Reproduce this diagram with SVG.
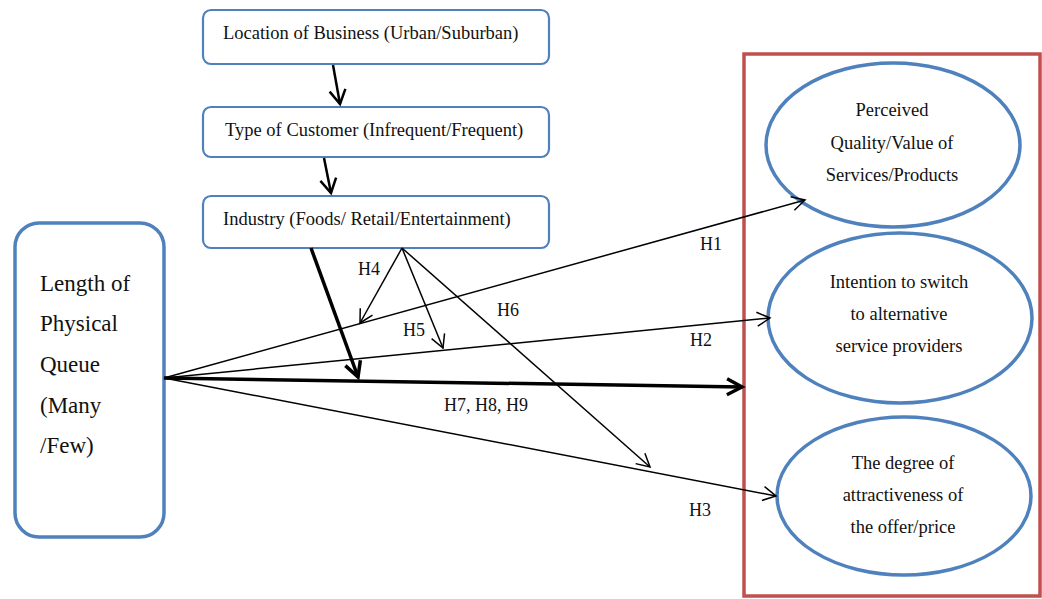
<svg xmlns="http://www.w3.org/2000/svg" width="1042" height="599" viewBox="0 0 1042 599">
  <style>
    text { font-family: "Liberation Serif", "Times New Roman", serif; fill: #111; }
    .box { fill: #fff; stroke: #4f81bd; stroke-width: 2.2; }
    .big { fill: #fff; stroke: #4f81bd; stroke-width: 3.5; }
    .oval { fill: #fff; stroke: #4f81bd; stroke-width: 3.5; }
    .frame { fill: none; stroke: #c0504d; stroke-width: 3.5; }
    .thin { fill: none; stroke: #000; stroke-width: 1.5; marker-end: url(#open); }
    .mid { fill: none; stroke: #000; stroke-width: 2.5; marker-end: url(#openMid); }
    .thick { fill: none; stroke: #000; stroke-width: 3.5; marker-end: url(#openThick); }
    .t18 { font-size: 18.5px; }
    .lbl { font-size: 18px; }
    .t23 { font-size: 23px; }
  </style>
  <defs>
    <marker id="open" markerUnits="userSpaceOnUse" orient="auto" markerWidth="30" markerHeight="30" viewBox="-20 -15 30 30" refX="0" refY="0">
      <path d="M -13 -7 L 0 0 L -13 7" fill="none" stroke="#000" stroke-width="1.5"/>
    </marker>
    <marker id="openMid" markerUnits="userSpaceOnUse" orient="auto" markerWidth="30" markerHeight="30" viewBox="-20 -15 30 30" refX="0" refY="0">
      <path d="M -14 -8 L 0 0 L -14 8" fill="none" stroke="#000" stroke-width="2.5"/>
    </marker>
    <marker id="openThick" markerUnits="userSpaceOnUse" orient="auto" markerWidth="30" markerHeight="30" viewBox="-20 -15 30 30" refX="0" refY="0">
      <path d="M -15 -8 L 0 0 L -15 8" fill="none" stroke="#000" stroke-width="3.5"/>
    </marker>
  </defs>

  <rect width="1042" height="599" fill="#fff"/>

  <!-- outcome frame -->
  <rect class="frame" x="744" y="54" width="296" height="542"/>

  <g id="location">
    <rect class="box" x="203" y="10" width="346" height="54" rx="8"/>
    <text class="t18" x="223" y="39">Location of Business (Urban/Suburban)</text>
  </g>
  <g id="customer">
    <rect class="box" x="203" y="107" width="346" height="50" rx="8"/>
    <text class="t18" x="225" y="136">Type of Customer (Infrequent/Frequent)</text>
  </g>
  <g id="industry">
    <rect class="box" x="203" y="196" width="346" height="52" rx="8"/>
    <text class="t18" x="223" y="225">Industry (Foods/ Retail/Entertainment)</text>
  </g>

  <g id="queue">
    <rect class="big" x="15" y="223" width="149" height="314" rx="24"/>
    <text class="t23" x="40" y="291">Length of</text>
    <text class="t23" x="40" y="331">Physical</text>
    <text class="t23" x="40" y="372">Queue</text>
    <text class="t23" x="40" y="413">(Many</text>
    <text class="t23" x="40" y="453">/Few)</text>
  </g>

  <g id="quality">
    <ellipse class="oval" cx="893" cy="145" rx="127" ry="82"/>
    <text class="t18" x="892" y="116" text-anchor="middle">Perceived</text>
    <text class="t18" x="892" y="149" text-anchor="middle">Quality/Value of</text>
    <text class="t18" x="892" y="181" text-anchor="middle">Services/Products</text>
  </g>
  <g id="switching">
    <ellipse class="oval" cx="900" cy="318" rx="132" ry="85"/>
    <text class="t18" x="899" y="288" text-anchor="middle">Intention to switch</text>
    <text class="t18" x="899" y="320" text-anchor="middle">to alternative</text>
    <text class="t18" x="899" y="352" text-anchor="middle">service providers</text>
  </g>
  <g id="attractiveness">
    <ellipse class="oval" cx="904" cy="496" rx="127" ry="79"/>
    <text class="t18" x="903" y="469" text-anchor="middle">The degree of</text>
    <text class="t18" x="903" y="501" text-anchor="middle">attractiveness of</text>
    <text class="t18" x="903" y="533" text-anchor="middle">the offer/price</text>
  </g>

  <g id="connectors">
    <line class="mid" x1="333" y1="65" x2="340" y2="104"/>
    <line class="mid" x1="324" y1="158" x2="331" y2="193"/>
    <line class="thick" x1="311" y1="248" x2="358" y2="377"/>
    <line class="thin" x1="164" y1="378" x2="805" y2="200"/>
    <line class="thin" x1="164" y1="378" x2="770" y2="318"/>
    <line class="thick" x1="164" y1="378" x2="742" y2="387"/>
    <line class="thin" x1="164" y1="378" x2="776" y2="496"/>
    <line class="thin" x1="402" y1="248" x2="360" y2="323"/>
    <line class="thin" x1="402" y1="248" x2="443" y2="348"/>
    <line class="thin" x1="402" y1="248" x2="650" y2="467"/>
  </g>

  <g id="labels">
    <text class="lbl" x="700" y="250">H1</text>
    <text class="lbl" x="690" y="346">H2</text>
    <text class="lbl" x="689" y="516">H3</text>
    <text class="lbl" x="358" y="275">H4</text>
    <text class="lbl" x="403" y="336">H5</text>
    <text class="lbl" x="497" y="316">H6</text>
    <text class="lbl" x="444" y="411">H7, H8, H9</text>
  </g>
</svg>
